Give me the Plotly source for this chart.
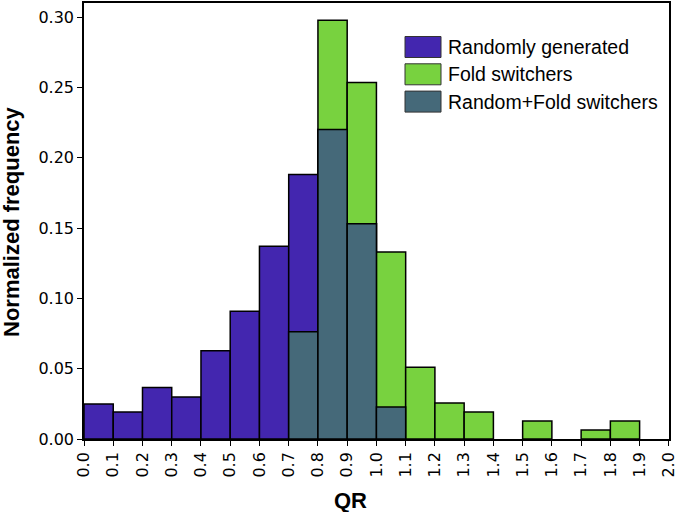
import numpy as np
import plotly.graph_objects as go

# ---- data ----
bin_edges = [round(0.1 * i, 1) for i in range(21)]  # 0.0 .. 2.0
randomly_generated = [0.0249, 0.0192, 0.0367, 0.0299, 0.0628, 0.0908, 0.137, 0.188,
                      0.220, 0.153, 0.0227, 0, 0, 0, 0, 0, 0, 0, 0, 0]
fold_switchers = [0, 0, 0, 0, 0, 0, 0, 0.0763, 0.2977, 0.2534, 0.133, 0.051, 0.0256,
                  0.0192, 0, 0.0128, 0, 0.0064, 0.0128, 0]
series_names = ["Randomly generated", "Fold switchers", "Random+Fold switchers"]
x_tick_labels = [f"{v:.1f}" for v in bin_edges]
y_tick_vals = [0.0, 0.05, 0.10, 0.15, 0.20, 0.25, 0.30]

colors = ["#4326AF", "#78D23F", "#456979"]

edges = np.array(bin_edges)
centers = (edges[:-1] + edges[1:]) / 2
widths = np.diff(edges)
rnd = np.array(randomly_generated)
fold = np.array(fold_switchers)
overlap = np.minimum(rnd, fold)

fig = go.Figure()
for vals, col, name in zip([rnd, fold, overlap], colors, series_names):
    v = [y if y > 0 else None for y in vals]
    fig.add_trace(go.Bar(
        x=centers, y=v, width=widths, name=name,
        marker=dict(color=col, line=dict(color="black", width=1.5)),
        showlegend=False,
    ))

L, R, T, B = 84, 8, 3, 73
W, H = 677, 512
fig.update_layout(
    width=W, height=H,
    barmode="overlay",
    paper_bgcolor="white", plot_bgcolor="white",
    margin=dict(l=L, r=R, t=T, b=B, autoexpand=False),
    font=dict(family="DejaVu Sans", size=16, color="black"),
)
fig.update_xaxes(
    range=[0, 2.0005], tickvals=bin_edges, ticktext=x_tick_labels, tickangle=-90,
    showline=True, linecolor="black", linewidth=1.5, mirror=True,
    ticks="outside", ticklen=5, tickwidth=1.2, tickcolor="black",
    showgrid=False, zeroline=False, automargin=False, ticklabeloverflow="allow",
    tickfont=dict(family="DejaVu Sans", size=16),
)
fig.update_yaxes(
    range=[0, 0.310], tickvals=y_tick_vals, tickformat=".2f",
    showline=True, linecolor="black", linewidth=1.5, mirror=True,
    ticks="outside", ticklen=5, tickwidth=1.2, tickcolor="black",
    showgrid=False, zeroline=False, automargin=False, ticklabeloverflow="allow",
    tickfont=dict(family="DejaVu Sans", size=16),
)

pw = W - L - R
ph = H - T - B

def px_to_paper_x(px):
    return (px - L) / pw

def px_to_paper_y(py):
    return (H - B - py) / ph

# axis titles
fig.add_annotation(text="<b>QR</b>", x=px_to_paper_x(350), y=px_to_paper_y(500),
                   xref="paper", yref="paper", showarrow=False,
                   font=dict(family="Liberation Sans", size=22, color="black"),
                   xanchor="center", yanchor="middle")
fig.add_annotation(text="<b>Normalized frequency</b>", x=px_to_paper_x(12), y=px_to_paper_y(222),
                   xref="paper", yref="paper", showarrow=False, textangle=-90,
                   font=dict(family="Liberation Sans", size=22, color="black"),
                   xanchor="center", yanchor="middle")

# legend (patches + labels)
for i, (name, col) in enumerate(zip(series_names, colors)):
    top = 36.5 + i * 27.3
    bot = top + 21
    fig.add_shape(type="rect", xref="paper", yref="paper",
                  x0=px_to_paper_x(405), x1=px_to_paper_x(441),
                  y0=px_to_paper_y(bot), y1=px_to_paper_y(top),
                  fillcolor=col, line=dict(color="#333333", width=1))
    fig.add_annotation(text=name, xref="paper", yref="paper",
                       x=px_to_paper_x(446), y=px_to_paper_y((top + bot) / 2),
                       showarrow=False, xanchor="left", yanchor="middle",
                       font=dict(family="Liberation Sans", size=19.5, color="black"))

fig.write_html("out.html", config={"displayModeBar": False},
               post_script="document.body.style.margin='0';")
